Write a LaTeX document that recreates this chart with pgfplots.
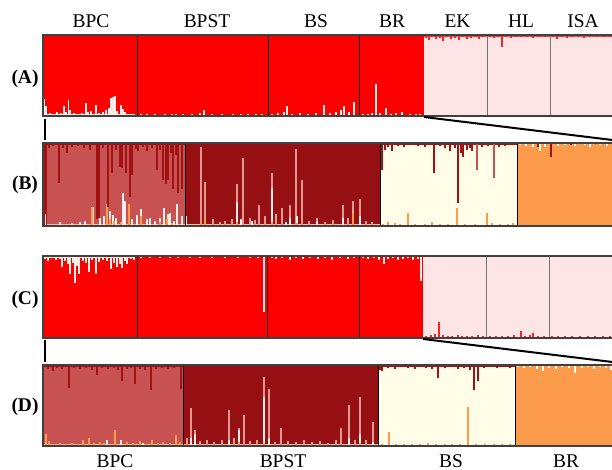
\documentclass[border=0pt]{standalone}
\usepackage{fontspec}
\setmainfont{Liberation Serif}
\usepackage{pgfplots}
\pgfplotsset{compat=1.18}

\definecolor{redA}{RGB}{252,0,0}
\definecolor{pinkA}{RGB}{253,228,229}
\definecolor{salmon}{RGB}{200,82,82}
\definecolor{dred}{RGB}{150,15,18}
\definecolor{dipred}{RGB}{160,18,20}
\definecolor{cream}{RGB}{255,253,232}
\definecolor{orng}{RGB}{253,155,77}
\definecolor{pale}{RGB}{228,150,145}
\definecolor{whitish}{RGB}{252,236,232}
\definecolor{band}{RGB}{245,185,150}

\pgfplotsset{
  panel/.style={anchor=south west, width=571bp, scale only axis,
    xmin=43, xmax=614, ymin=0, ymax=1, ticks=none, axis on top,
    axis line style={black!75, line width=1.2bp}, clip=true},
  spk/.style={ycomb, draw=#1, line width=1.3bp},
  dip/.style={draw=none, mark=none,
    error bars/y dir=minus, error bars/y explicit,
    error bars/error mark=none,
    error bars/error bar style={draw=#1, line width=1.3bp}},
  sep/.style={draw=#1, line width=1bp},
}
\newcommand\lab{\fontsize{19.5}{23}\selectfont}

\begin{document}
\begin{tikzpicture}
\path[use as bounding box] (0,0) rectangle (612bp,470bp);

% ---------- (A)
\begin{axis}[panel, at={(43bp,354bp)}, height=81bp]
\addplot[fill=redA, draw=none] coordinates {(43,0)(43,1)(424,1)(424,0)};
\addplot[fill=pinkA, draw=none] coordinates {(424,0)(424,1)(614,1)(614,0)};
\addplot[fill=whitish, draw=none] coordinates {(43,0)(43,0.025)(135,0.025)(135,0)};
\addplot[spk=whitish] coordinates {
 (44.5,0.21)(46,0.12)(50,0.04)(53,0.03)(57,0.05)(61,0.04)(64,0.12)(66,0.05)
 (68.5,0.2)(70,0.08)(74,0.04)(78,0.03)(82,0.04)(86,0.16)(88,0.05)(91,0.06)
 (96,0.14)(99,0.04)(103,0.05)(106,0.07)(109,0.1)(111,0.22)(113,0.23)(115,0.25)
 (117,0.06)(121,0.13)(123,0.09)(125,0.05)(129,0.03)(133,0.03)
 (141,0.03)(147,0.02)(155,0.03)(165,0.03)(172,0.02)(176,0.03)(183,0.03)(192,0.02)
 (200,0.04)(204,0.07)(212,0.03)(222,0.02)(233,0.03)(241,0.02)(248,0.03)(256,0.02)(262,0.03)
 (272,0.03)(278,0.04)(284,0.05)(287,0.12)(292,0.03)(300,0.04)(308,0.03)(316,0.04)
 (324,0.13)(330,0.04)(336,0.05)(341,0.07)(344,0.12)(349,0.05)(354,0.17)
 (363,0.03)(368,0.03)(372,0.04)(376,0.4)(380,0.04)(386,0.1)(391,0.03)(396,0.04)
 (402,0.05)(410,0.03)(416,0.03)(420,0.03)};
\addplot[fill=redA!70!pinkA, draw=none] coordinates {(424,1)(424,0.98)(614,0.98)(614,1)};
\addplot[dip=redA!85!pinkA] coordinates {
 (426,1)-=(0,0.04) (429,1)-=(0,0.06) (432,1)-=(0,0.03) (436,1)-=(0,0.05)
 (440,1)-=(0,0.04) (443,1)-=(0,0.07) (447,1)-=(0,0.03) (451,1)-=(0,0.05)
 (455,1)-=(0,0.04) (459,1)-=(0,0.06) (463,1)-=(0,0.03) (467,1)-=(0,0.05)
 (471,1)-=(0,0.04) (475,1)-=(0,0.03) (479,1)-=(0,0.05) (483,1)-=(0,0.03)
 (490,1)-=(0,0.03) (494,1)-=(0,0.04) (498,1)-=(0,0.03) (502,1)-=(0,0.15)
 (506,1)-=(0,0.03) (511,1)-=(0,0.04) (516,1)-=(0,0.03) (521,1)-=(0,0.02)
 (527,1)-=(0,0.03) (533,1)-=(0,0.04) (539,1)-=(0,0.03) (545,1)-=(0,0.02)
 (553,1)-=(0,0.03) (557,1)-=(0,0.05) (562,1)-=(0,0.03) (567,1)-=(0,0.04)
 (572,1)-=(0,0.03) (578,1)-=(0,0.02) (584,1)-=(0,0.04) (590,1)-=(0,0.03)
 (597,1)-=(0,0.02) (604,1)-=(0,0.03) (610,1)-=(0,0.02)};
\addplot[sep=black] coordinates {(137,0)(137,1)};
\addplot[sep=black] coordinates {(268,0)(268,1)};
\addplot[sep=black] coordinates {(359,0)(359,1)};
\addplot[sep=black!55] coordinates {(487,0)(487,1)};
\addplot[sep=black!55] coordinates {(550,0)(550,1)};
\end{axis}

% ---------- (B)
\begin{axis}[panel, at={(43bp,244bp)}, height=83bp]
\addplot[fill=salmon, draw=none] coordinates {(43,0)(43,1)(185,1)(185,0)};
\addplot[fill=dred, draw=none] coordinates {(185,0)(185,1)(380,1)(380,0)};
\addplot[fill=cream, draw=none] coordinates {(380,0)(380,1)(517,1)(517,0)};
\addplot[fill=orng, draw=none] coordinates {(517,0)(517,1)(614,1)(614,0)};
\addplot[fill=band, draw=none] coordinates {(43,0)(43,0.03)(380,0.03)(380,0)};
\addplot[fill=orng, draw=none] coordinates {(380,0)(380,0.015)(517,0.015)(517,0)};
\addplot[ycomb, draw=dipred, line width=3bp] coordinates {(45.5,1)};
\addplot[spk=whitish] coordinates {
 (45.5,0.15)(60,0.05)(72,0.04)(80,0.05)(85,0.06)(93,0.23)(100,0.1)(104,0.12)
 (107,0.26)(110,0.18)(113,0.13)(116,0.1)(123,0.4)(125,0.3)(129,0.12)(132,0.08)
 (137,0.13)(141,0.2)(147,0.08)(150,0.1)(155,0.06)(160,0.1)(164,0.22)(168,0.15)
 (170,0.16)(174,0.06)(177,0.26)(182,0.12)};
\addplot[spk=orng] coordinates {
 (92,0.23)(107,0.25)(110,0.08)(114,0.06)(121,0.05)(129,0.26)(141,0.12)
 (160,0.05)(167,0.08)(172,0.04)};
\addplot[spk=pale] coordinates {
 (201,0.95)(205,0.53)(213,0.08)(220,0.05)(225,0.06)(232,0.08)(237,0.5)(243,0.82)
 (250,0.1)(255,0.07)(259,0.25)(265,0.12)(272,0.64)(276,0.15)(282,0.22)(290,0.25)
 (296,0.93)(302,0.55)(309,0.06)(317,0.1)(325,0.05)(333,0.07)(343,0.25)(348,0.1)
 (353,0.3)(360,0.32)(366,0.06)(372,0.05)};
\addplot[spk=whitish] coordinates {
 (186,0.12)(205,0.05)(237,0.29)(241,0.08)(252,0.06)(272,0.46)(286,0.05)(290,0.1)
 (297,0.12)(317,0.06)(343,0.1)(353,0.18)(360,0.12)};
\addplot[spk=orng] coordinates {(205,0.08)(237,0.05)(272,0.05)(297,0.04)(353,0.17)};
\addplot[spk=orng] coordinates {
 (383,0.03)(388,0.05)(395,0.04)(400,0.03)(408,0.16)(415,0.03)(425,0.03)(432,0.05)
 (440,0.03)(448,0.02)(457,0.22)(465,0.03)(475,0.03)(487,0.16)(492,0.04)(500,0.03)
 (508,0.03)(513,0.04)};
\addplot[fill=dipred, draw=none] coordinates {(43,1)(43,0.97)(185,0.97)(185,1)};
\addplot[fill=dipred, draw=none] coordinates {(380,1)(380,0.975)(517,0.975)(517,1)};
\addplot[dip=dipred] coordinates {
 (49,1)-=(0,0.06) (53,1)-=(0,0.04) (59,1)-=(0,0.48) (63,1)-=(0,0.06)
 (67,1)-=(0,0.12) (72,1)-=(0,0.05) (78,1)-=(0,0.04) (84,1)-=(0,0.06)
 (90,1)-=(0,0.08) (97,1)-=(0,0.92) (99,1)-=(0,0.9) (103,1)-=(0,0.06)
 (108,1)-=(0,0.77) (112,1)-=(0,0.36) (116,1)-=(0,0.08) (120,1)-=(0,0.29)
 (122,1)-=(0,0.3) (126,1)-=(0,0.36) (130,1)-=(0,0.65) (132,1)-=(0,0.38)
 (136,1)-=(0,0.07) (138,1)-=(0,0.1) (143,1)-=(0,0.05) (147,1)-=(0,0.1)
 (152,1)-=(0,0.06) (157,1)-=(0,0.32) (160,1)-=(0,0.08) (163,1)-=(0,0.45)
 (166,1)-=(0,0.5) (168,1)-=(0,0.45) (171,1)-=(0,0.12) (173,1)-=(0,0.55)
 (176,1)-=(0,0.15) (178,1)-=(0,0.6) (182,1)-=(0,0.55)
 (382,1)-=(0,0.32) (385,1)-=(0,0.08) (388,1)-=(0,0.05) (392,1)-=(0,0.1)
 (398,1)-=(0,0.04) (404,1)-=(0,0.05) (410,1)-=(0,0.03) (418,1)-=(0,0.04)
 (425,1)-=(0,0.05) (434,1)-=(0,0.36) (440,1)-=(0,0.04) (445,1)-=(0,0.06)
 (450,1)-=(0,0.1) (455,1)-=(0,0.06) (458,1)-=(0,0.72) (461,1)-=(0,0.12)
 (463,1)-=(0,0.17) (467,1)-=(0,0.08) (470,1)-=(0,0.06) (472,1)-=(0,0.1)
 (482,1)-=(0,0.05) (488,1)-=(0,0.04) (499,1)-=(0,0.05) (505,1)-=(0,0.04)
 (511,1)-=(0,0.03) (538,1)-=(0,0.05) (551,1)-=(0,0.17) (571,1)-=(0,0.03)};
\addplot[dip=salmon] coordinates {(477,1)-=(0,0.32) (494,1)-=(0,0.42)};
\addplot[dip=cream] coordinates {
 (520,1)-=(0,0.03) (526,1)-=(0,0.04) (533,1)-=(0,0.05) (540,1)-=(0,0.1)
 (545,1)-=(0,0.05) (558,1)-=(0,0.04) (565,1)-=(0,0.03) (575,1)-=(0,0.04)
 (585,1)-=(0,0.03) (590,1)-=(0,0.05) (600,1)-=(0,0.03) (607,1)-=(0,0.04)};
\addplot[sep=black] coordinates {(185,0)(185,1)};
\addplot[sep=black] coordinates {(380,0)(380,1)};
\addplot[sep=black] coordinates {(517,0)(517,1)};
\end{axis}

% ---------- (C)
\begin{axis}[panel, at={(43bp,132bp)}, height=82bp]
\addplot[fill=redA, draw=none] coordinates {(43,0)(43,1)(423,1)(423,0)};
\addplot[fill=pinkA, draw=none] coordinates {(423,0)(423,1)(614,1)(614,0)};
\addplot[spk=redA!85!pinkA] coordinates {
 (426,0.03)(431,0.04)(435,0.05)(439,0.2)(443,0.04)(448,0.03)(452,0.03)(458,0.04)
 (462,0.02)(467,0.03)(472,0.03)(478,0.04)(483,0.03)(490,0.03)(496,0.02)(502,0.03)
 (508,0.03)(514,0.04)(521,0.08)(525,0.03)(530,0.04)(533,0.06)(538,0.03)(544,0.02)
 (552,0.03)(558,0.03)(565,0.02)(572,0.03)(580,0.03)(588,0.02)(595,0.03)(603,0.02)(610,0.03)};
\addplot[fill=whitish, draw=none] coordinates {(43,1)(43,0.98)(135,0.98)(135,1)};
\addplot[dip=whitish] coordinates {
 (45,1)-=(0,0.04) (48,1)-=(0,0.06) (52,1)-=(0,0.03) (56,1)-=(0,0.05)
 (60,1)-=(0,0.04) (62,1)-=(0,0.13) (65,1)-=(0,0.06) (68,1)-=(0,0.1)
 (70,1)-=(0,0.22) (73,1)-=(0,0.08) (75,1)-=(0,0.33) (77,1)-=(0,0.12)
 (79,1)-=(0,0.22) (83,1)-=(0,0.06) (86,1)-=(0,0.08) (89,1)-=(0,0.2)
 (92,1)-=(0,0.05) (96,1)-=(0,0.22) (99,1)-=(0,0.07) (103,1)-=(0,0.05)
 (107,1)-=(0,0.06) (111,1)-=(0,0.16) (114,1)-=(0,0.08) (117,1)-=(0,0.14)
 (120,1)-=(0,0.1) (122,1)-=(0,0.15) (125,1)-=(0,0.06) (127,1)-=(0,0.1)
 (131,1)-=(0,0.04) (134,1)-=(0,0.05)
 (141,1)-=(0,0.02) (150,1)-=(0,0.03) (160,1)-=(0,0.02) (170,1)-=(0,0.03)
 (178,1)-=(0,0.02) (190,1)-=(0,0.03) (200,1)-=(0,0.02) (212,1)-=(0,0.03)
 (225,1)-=(0,0.02) (238,1)-=(0,0.03) (250,1)-=(0,0.02) (258,1)-=(0,0.03)
 (264,1)-=(0,0.68)
 (272,1)-=(0,0.03) (276,1)-=(0,0.04) (282,1)-=(0,0.03) (290,1)-=(0,0.05)
 (296,1)-=(0,0.03) (303,1)-=(0,0.04) (310,1)-=(0,0.03) (318,1)-=(0,0.04)
 (325,1)-=(0,0.03) (332,1)-=(0,0.05) (340,1)-=(0,0.03) (348,1)-=(0,0.04)
 (354,1)-=(0,0.03)
 (363,1)-=(0,0.03) (368,1)-=(0,0.04) (374,1)-=(0,0.03) (379,1)-=(0,0.05)
 (384,1)-=(0,0.1) (388,1)-=(0,0.04) (393,1)-=(0,0.03) (398,1)-=(0,0.05)
 (403,1)-=(0,0.04) (408,1)-=(0,0.03) (413,1)-=(0,0.05) (418,1)-=(0,0.04)
 (421,1)-=(0,0.3)};
\addplot[sep=black] coordinates {(137,0)(137,1)};
\addplot[sep=black] coordinates {(267,0)(267,1)};
\addplot[sep=black] coordinates {(359,0)(359,1)};
\addplot[sep=black!55] coordinates {(486,0)(486,1)};
\addplot[sep=black!55] coordinates {(549,0)(549,1)};
\end{axis}

% ---------- (D)
\begin{axis}[panel, at={(43bp,24bp)}, height=81bp]
\addplot[fill=salmon, draw=none] coordinates {(43,0)(43,1)(183,1)(183,0)};
\addplot[fill=dred, draw=none] coordinates {(183,0)(183,1)(378,1)(378,0)};
\addplot[fill=cream, draw=none] coordinates {(378,0)(378,1)(515,1)(515,0)};
\addplot[fill=orng, draw=none] coordinates {(515,0)(515,1)(614,1)(614,0)};
\addplot[fill=band, draw=none] coordinates {(43,0)(43,0.025)(378,0.025)(378,0)};
\addplot[fill=orng, draw=none] coordinates {(378,0)(378,0.015)(515,0.015)(515,0)};
\addplot[spk=orng] coordinates {
 (46,0.15)(49,0.06)(55,0.03)(60,0.04)(66,0.03)(72,0.04)(78,0.03)(83,0.08)(89,0.1)
 (94,0.04)(100,0.05)(104,0.04)(115,0.2)(127,0.05)(133,0.04)(140,0.06)(146,0.03)
 (152,0.07)(158,0.04)(163,0.05)(170,0.04)(176,0.14)(180,0.05)};
\addplot[spk=whitish] coordinates {(107,0.07)(121,0.08)(143,0.04)(167,0.03)};
\addplot[spk=pale] coordinates {
 (187,0.1)(191,0.47)(195,0.2)(200,0.06)(207,0.08)(214,0.05)(222,0.07)(229,0.45)
 (234,0.1)(239,0.22)(244,0.38)(250,0.06)(257,0.08)(264,0.85)(269,0.7)(275,0.05)
 (281,0.22)(288,0.06)(296,0.05)(304,0.07)(312,0.05)(320,0.06)(328,0.04)(336,0.07)
 (341,0.22)(349,0.5)(355,0.08)(360,0.6)(366,0.07)(373,0.3)};
\addplot[spk=whitish] coordinates {
 (191,0.1)(195,0.15)(229,0.08)(239,0.2)(264,0.6)(269,0.1)(349,0.1)(360,0.15)(373,0.05)};
\addplot[spk=orng] coordinates {(187,0.05)(239,0.05)(264,0.04)(360,0.04)};
\addplot[spk=orng] coordinates {
 (382,0.03)(389,0.17)(396,0.03)(404,0.02)(412,0.03)(420,0.03)(428,0.04)(436,0.03)
 (445,0.03)(452,0.02)(460,0.03)(468,0.48)(476,0.03)(485,0.02)(494,0.03)(502,0.02)(510,0.03)};
\addplot[fill=dipred, draw=none] coordinates {(43,1)(43,0.97)(183,0.97)(183,1)};
\addplot[fill=dipred, draw=none] coordinates {(378,1)(378,0.975)(515,0.975)(515,1)};
\addplot[dip=dipred] coordinates {
 (48,1)-=(0,0.05) (53,1)-=(0,0.08) (57,1)-=(0,0.04) (62,1)-=(0,0.05)
 (69,1)-=(0,0.28) (74,1)-=(0,0.04) (80,1)-=(0,0.05) (86,1)-=(0,0.04)
 (92,1)-=(0,0.06) (97,1)-=(0,0.12) (102,1)-=(0,0.04) (108,1)-=(0,0.05)
 (114,1)-=(0,0.04) (118,1)-=(0,0.06) (122,1)-=(0,0.2) (127,1)-=(0,0.05)
 (131,1)-=(0,0.04) (135,1)-=(0,0.24) (140,1)-=(0,0.05) (145,1)-=(0,0.06)
 (151,1)-=(0,0.31) (156,1)-=(0,0.05) (162,1)-=(0,0.04) (168,1)-=(0,0.05)
 (174,1)-=(0,0.04) (181,1)-=(0,0.3)
 (380,1)-=(0,0.06) (382,1)-=(0,0.08) (388,1)-=(0,0.04) (395,1)-=(0,0.05)
 (401,1)-=(0,0.03) (408,1)-=(0,0.04) (415,1)-=(0,0.05) (420,1)-=(0,0.03)
 (426,1)-=(0,0.04) (432,1)-=(0,0.05) (438,1)-=(0,0.16) (445,1)-=(0,0.04)
 (452,1)-=(0,0.03) (458,1)-=(0,0.05) (464,1)-=(0,0.04) (470,1)-=(0,0.06)
 (474,1)-=(0,0.31) (478,1)-=(0,0.2) (484,1)-=(0,0.04) (490,1)-=(0,0.03)
 (497,1)-=(0,0.04) (503,1)-=(0,0.03) (510,1)-=(0,0.04)};
\addplot[dip=cream] coordinates {
 (518,1)-=(0,0.03) (524,1)-=(0,0.04) (530,1)-=(0,0.03) (537,1)-=(0,0.05)
 (543,1)-=(0,0.08) (549,1)-=(0,0.04) (556,1)-=(0,0.05) (562,1)-=(0,0.03)
 (569,1)-=(0,0.04) (575,1)-=(0,0.1) (582,1)-=(0,0.04) (588,1)-=(0,0.03)
 (594,1)-=(0,0.05) (600,1)-=(0,0.03) (606,1)-=(0,0.04) (611,1)-=(0,0.06)};
\addplot[sep=black] coordinates {(183,0)(183,1)};
\addplot[sep=black] coordinates {(378,0)(378,1)};
\addplot[sep=black] coordinates {(515,0)(515,1)};
\end{axis}

% connectors between overview and zoomed panels
\draw[line width=2bp] (45bp,351bp) -- (45bp,330bp);
\draw[line width=2bp] (424bp,353bp) -- (614bp,329.8bp);
\draw[line width=2bp] (45bp,130bp) -- (45bp,108bp);
\draw[line width=2bp] (423bp,131bp) -- (614bp,107.8bp);

% labels
\node[anchor=base, font=\lab] at (91bp,442bp) {BPC};
\node[anchor=base, font=\lab] at (207bp,442bp) {BPST};
\node[anchor=base, font=\lab] at (316bp,442bp) {BS};
\node[anchor=base, font=\lab] at (392bp,442bp) {BR};
\node[anchor=base, font=\lab] at (457.5bp,442bp) {EK};
\node[anchor=base, font=\lab] at (521bp,442bp) {HL};
\node[anchor=base, font=\lab] at (583bp,442bp) {ISA};

\node[anchor=base, font=\lab] at (115bp,3bp) {BPC};
\node[anchor=base, font=\lab] at (283bp,3bp) {BPST};
\node[anchor=base, font=\lab] at (451bp,3bp) {BS};
\node[anchor=base, font=\lab] at (566bp,3bp) {BR};

\node[anchor=base, font=\lab\bfseries] at (25bp,386bp) {(A)};
\node[anchor=base, font=\lab\bfseries] at (25bp,280bp) {(B)};
\node[anchor=base, font=\lab\bfseries] at (25bp,165bp) {(C)};
\node[anchor=base, font=\lab\bfseries] at (25bp,58bp) {(D)};
\end{tikzpicture}
\end{document}
